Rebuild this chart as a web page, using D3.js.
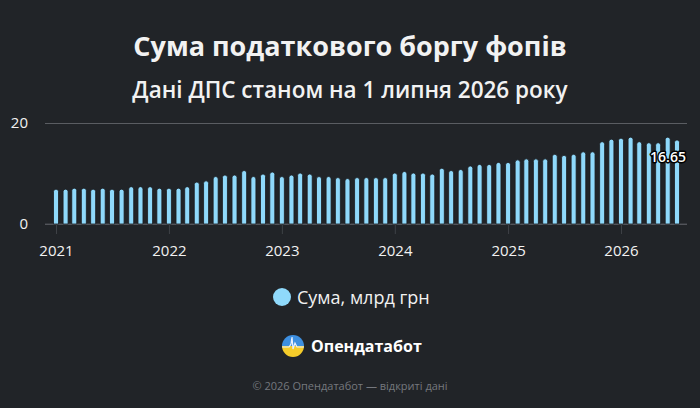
<!DOCTYPE html>
<html>
<head>
<meta charset="utf-8">
<script src="https://cdn.jsdelivr.net/npm/d3@7"></script>
<style>
  body { margin: 0; background: #212428; }
  svg { display: block; font-family: "Open Sans", "Noto Sans", sans-serif; }
</style>
</head>
<body>
<svg width="700" height="408"></svg>
<script>
// monthly values, Jan 2021 .. Jul 2026, bn UAH
const startMonth = '2021-01';
const debt = [
  6.9, 6.9, 7.1, 7.1, 6.9, 7.1, 6.9, 6.9, 7.4, 7.4, 7.4, 7.1,
  7.1, 7.1, 7.4, 8.3, 8.55, 9.4, 9.7, 9.7, 10.6, 9.4, 9.9, 10.3,
  9.4, 9.7, 10.1, 9.9, 9.4, 9.4, 9.2, 9.0, 9.2, 9.2, 9.2, 9.2,
  10.1, 10.4, 10.1, 10.1, 9.9, 11.05, 10.6, 10.8, 11.5, 11.8, 11.8, 12.2,
  12.2, 12.7, 12.9, 12.9, 12.9, 13.8, 13.6, 13.8, 14.3, 14.3, 16.3, 16.8,
  17.0, 17.2, 16.3, 16.1, 16.1, 17.2, 16.65
];
const yTicks = [0, 20];
const title = 'Сума податкового боргу фопів';
const subtitle = 'Дані ДПС станом на 1 липня 2026 року';
const seriesName = 'Сума, млрд грн';

const parse = d3.timeParse('%Y-%m');
const t0 = parse(startMonth);
const data = debt.map((v, i) => ({ date: d3.timeMonth.offset(t0, i), value: v }));

const svg = d3.select('svg');
const W = 700, H = 408;

svg.append('rect').attr('width', W).attr('height', H).attr('fill', '#212428');

svg.append('text')
  .attr('x', W / 2).attr('y', 56)
  .attr('text-anchor', 'middle')
  .attr('fill', '#f2f2f2')
  .attr('font-size', 27).attr('font-weight', 700)
  .text(title);

svg.append('text')
  .attr('x', W / 2).attr('y', 98)
  .attr('text-anchor', 'middle')
  .attr('fill', '#f2f2f2')
  .attr('font-size', 22.5).attr('font-weight', 600)
  .text(subtitle);

const x = d3.scaleTime()
  .domain(d3.extent(data, d => d.date))
  .range([56, 677]);

const y = d3.scaleLinear()
  .domain([0, 20])
  .range([224, 123]);

// grid + y labels
const yAxis = d3.axisLeft(y)
  .tickValues(yTicks)
  .tickSize(-642)
  .tickPadding(17);

const yG = svg.append('g')
  .attr('transform', 'translate(45,0)')
  .call(yAxis);
yG.select('.domain').remove();
yG.selectAll('line').attr('stroke', '#5a5d62').attr('stroke-width', 1);
yG.selectAll('text')
  .attr('fill', '#f2f2f2')
  .attr('font-size', 15)
  .attr('font-family', '"Open Sans", sans-serif');

// x axis
const xAxis = d3.axisBottom(x)
  .ticks(d3.timeYear.every(1))
  .tickFormat(d3.timeFormat('%Y'))
  .tickSize(10)
  .tickPadding(11);

const xG = svg.append('g')
  .attr('transform', 'translate(0,224)')
  .call(xAxis);
xG.select('.domain').remove();
xG.selectAll('line').attr('stroke', '#3e4146');
xG.selectAll('text')
  .attr('fill', '#f2f2f2')
  .attr('font-size', 15)
  .attr('font-family', '"Open Sans", sans-serif');

svg.append('line')
  .attr('x1', 45).attr('x2', 687)
  .attr('y1', 224).attr('y2', 224)
  .attr('stroke', '#4a4d52');

// bars
const bw = 5;
svg.append('g')
  .selectAll('path')
  .data(data)
  .join('path')
  .attr('d', d => {
    const x0 = x(d.date) - bw / 2, top = y(d.value), r = bw / 2;
    return `M${x0},${y(0)}V${top + r}A${r},${r} 0 0 1 ${x0 + bw},${top + r}V${y(0)}Z`;
  })
  .attr('fill', '#8fd9fb')
  .attr('stroke', '#1a1c1f')
  .attr('stroke-width', 0.8);

// last value label
const last = data[data.length - 1];
svg.append('text')
  .attr('x', x(last.date) - 9).attr('y', y(last.value) + 22)
  .attr('text-anchor', 'middle')
  .attr('font-size', 14).attr('font-weight', 600)
  .attr('fill', '#ffffff')
  .attr('stroke', '#000000').attr('stroke-width', 3)
  .attr('paint-order', 'stroke')
  .attr('stroke-linejoin', 'round')
  .text(d3.format('.2f')(last.value));

// legend
svg.append('circle')
  .attr('cx', 282).attr('cy', 297).attr('r', 9)
  .attr('fill', '#8fd9fb');
svg.append('text')
  .attr('x', 297).attr('y', 304)
  .attr('fill', '#f2f2f2')
  .attr('font-size', 18)
  .text(seriesName);

// logo
const logo = svg.append('g').attr('transform', 'translate(293,346)');
const clip = svg.append('defs').append('clipPath').attr('id', 'lc');
clip.append('circle').attr('r', 11);
const lg = logo.append('g').attr('clip-path', 'url(#lc)');
lg.append('rect').attr('x', -11).attr('y', -11).attr('width', 22).attr('height', 11).attr('fill', '#3d8fe0');
lg.append('rect').attr('x', -11).attr('y', 0).attr('width', 22).attr('height', 11).attr('fill', '#f5cc2a');
lg.append('path')
  .attr('d', 'M-11,1 L-4,1 L-2,-2 L-1,-9 L0,3 L2,-3 L4,1 L11,1')
  .attr('fill', 'none').attr('stroke', '#e8f0ff').attr('stroke-width', 1.2);
svg.append('text')
  .attr('x', 311).attr('y', 352)
  .attr('fill', '#ffffff')
  .attr('font-size', 16).attr('font-weight', 700)
  .text('Опендатабот');

svg.append('text')
  .attr('x', W / 2).attr('y', 390)
  .attr('text-anchor', 'middle')
  .attr('fill', '#75787e')
  .attr('font-size', 11)
  .text('© 2026 Опендатабот — відкриті дані');
</script>
</body>
</html>
